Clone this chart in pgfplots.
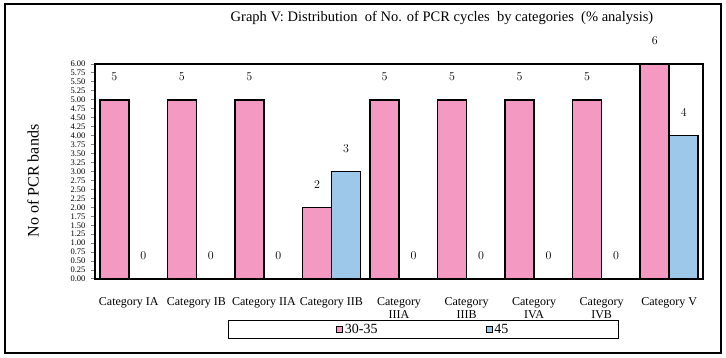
\documentclass[border=0pt]{standalone}
\usepackage{pgfplots}
\pgfplotsset{compat=1.18}
\usepackage{fontspec}
\setmainfont{Liberation Serif}
\definecolor{pinkbar}{RGB}{243,153,194}
\definecolor{bluebar}{RGB}{158,200,234}
\begin{document}
\begin{tikzpicture}[x=1pt,y=1pt]
\path[use as bounding box] (-95,-79) rectangle (631,279);
\draw[line width=1.5pt] (-90,-74) rectangle (626,275);
\begin{axis}[
  at={(0,0)}, anchor=south west,
  scale only axis, width=608pt, height=215pt,
  ybar=0pt, bar width=29pt,
  xmin=-0.5, xmax=8.5, ymin=0, ymax=6,
  clip=false,
  axis line style={line width=1.2pt},
  xtick={0,...,8},
  xticklabels={Category IA,Category IB,Category IIA,Category IIB,Category\\IIIA,Category\\IIIB,Category\\IVA,Category\\IVB,Category V},
  xticklabel style={align=center, font=\fontsize{12}{13}\selectfont, yshift=-11pt},
  x tick style={draw=none},
  extra x ticks={-0.5,0.5,...,8.5},
  extra x tick labels={},
  extra x tick style={tick style={draw=black, line width=1pt}, major tick length=5pt, tick pos=bottom, xtick align=outside},
  ytick={0,0.25,...,6.01},
  yticklabel style={/pgf/number format/fixed, /pgf/number format/fixed zerofill, /pgf/number format/precision=2, /pgf/number format/assume math mode=true, font=\fontsize{8.5}{8.5}\selectfont, xshift=-2pt, inner ysep=0pt},
  y tick style={line width=1pt},
  ytick align=outside, ytick pos=left, major tick length=4pt,
  nodes near coords,
  every node near coord/.append style={font=\fontsize{13}{13}\selectfont, yshift=15pt},
  legend columns=2,
  legend style={at={(0.54,-0.235)}, anchor=center, draw=black, line width=1pt, fill=white,
     inner xsep=108pt, inner ysep=2pt, font=\fontsize{14}{14}\selectfont,
     /tikz/every even column/.append style={column sep=106pt}},
  legend image code/.code={\draw[#1, line width=0.8pt] (0pt,-3pt) rectangle (6pt,3pt);},
]
\addplot[fill=pinkbar, draw=black, line width=1.5pt] coordinates {(0,5) (1,5) (2,5) (3,2) (4,5) (5,5) (6,5) (7,5) (8,6)};
\addplot[fill=bluebar, draw=black, line width=1.5pt] coordinates {(0,0) (1,0) (2,0) (3,3) (4,0) (5,0) (6,0) (7,0) (8,4)};
\legend{30-35,45}
\end{axis}
\node[font=\fontsize{14.5}{14.5}\selectfont] at (347,261) {Graph V: Distribution\ \ of No. of PCR cycles\ \ by categories\ \ (\% analysis)};
\node[font=\fontsize{16}{16}\selectfont, rotate=90] at (-62,98) {No of PCR bands};
\end{tikzpicture}
\end{document}
